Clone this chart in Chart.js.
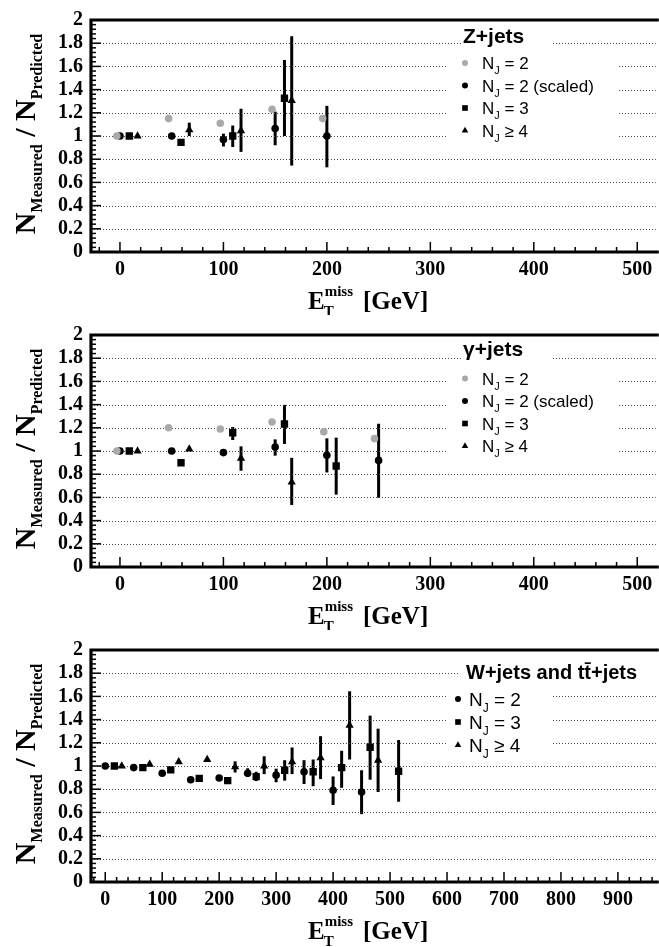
<!DOCTYPE html>
<html>
<head>
<meta charset="utf-8">
<script src="https://cdn.jsdelivr.net/npm/chart.js@4.4.0/dist/chart.umd.min.js"></script>
<style>
body { margin: 0; background: #fff; width: 659px; height: 947px; overflow: hidden; position: relative; }
canvas { position: absolute; left: 0; }
</style>
</head>
<body>
<canvas id="zjets" width="659" height="315" style="top:0px"></canvas>
<canvas id="gjets" width="659" height="315" style="top:315px"></canvas>
<canvas id="wjets" width="659" height="317" style="top:630px"></canvas>
<script>
// legend labels (after "N_J")
const zLabels = ['= 2', '= 2 (scaled)', '= 3', '\u2265 4']
const wLabels = ['= 2', '= 3', '\u2265 4']

// Z+jets
const zGrayX = [-3, 47, 97, 147, 196]
const zGrayY = [1.0, 1.15, 1.11, 1.23, 1.15]
const zCircX = [0, 50, 100, 150, 200]
const zCircY = [1.0, 1.0, 0.97, 1.065, 1.0]
const zCircLo = [1.0, 1.0, 0.91, 0.92, 0.73]
const zCircHi = [1.0, 1.0, 1.02, 1.21, 1.26]
const zSqX = [9, 59, 109, 159]
const zSqY = [1.0, 0.945, 1.0, 1.325]
const zSqLo = [1.0, 0.945, 0.905, 1.0]
const zSqHi = [1.0, 0.945, 1.09, 1.655]
const zTriX = [17, 67, 117, 166]
const zTriY = [1.0, 1.053, 1.045, 1.305]
const zTriLo = [1.0, 1.0, 0.863, 0.745]
const zTriHi = [1.0, 1.115, 1.235, 1.86]

// gamma+jets
const gGrayX = [-3, 47, 97, 147, 197, 246]
const gGrayY = [1.0, 1.20, 1.19, 1.25, 1.165, 1.107]
const gCircX = [0, 50, 100, 150, 200, 250]
const gCircY = [1.0, 1.0, 0.986, 1.034, 0.964, 0.919]
const gCircLo = [1.0, 1.0, 0.986, 0.96, 0.815, 0.597]
const gCircHi = [1.0, 1.0, 0.986, 1.10, 1.109, 1.235]
const gSqX = [9, 59, 109, 159, 209]
const gSqY = [1.0, 0.899, 1.157, 1.233, 0.871]
const gSqLo = [1.0, 0.899, 1.095, 1.061, 0.624]
const gSqHi = [1.0, 0.899, 1.207, 1.398, 1.115]
const gTriX = [17, 67, 117, 166]
const gTriY = [1.0, 1.017, 0.936, 0.731]
const gTriLo = [1.0, 1.017, 0.83, 0.535]
const gTriHi = [1.0, 1.017, 1.04, 0.941]

// W+jets and ttbar+jets
const wCircX = [0, 50, 100, 150, 200, 250, 300, 349, 400, 450]
const wCircY = [1.0, 0.986, 0.938, 0.882, 0.896, 0.938, 0.921, 0.95, 0.79, 0.776]
const wCircLo = [1.0, 0.986, 0.938, 0.882, 0.896, 0.905, 0.86, 0.845, 0.664, 0.585]
const wCircHi = [1.0, 0.986, 0.938, 0.882, 0.896, 0.98, 0.977, 1.05, 0.91, 0.963]
const wSqX = [16, 66, 115, 165, 215, 265, 315, 365, 415, 465, 515]
const wSqY = [1.0, 0.986, 0.966, 0.893, 0.874, 0.908, 0.963, 0.95, 0.986, 1.162, 0.955]
const wSqLo = [1.0, 0.986, 0.966, 0.893, 0.874, 0.87, 0.874, 0.826, 0.812, 0.882, 0.692]
const wSqHi = [1.0, 0.986, 0.966, 0.893, 0.874, 0.95, 1.05, 1.056, 1.131, 1.434, 1.224]
const wTriX = [29, 78, 129, 179, 228, 279, 328, 378, 429, 479]
const wTriY = [1.0, 1.014, 1.036, 1.055, 0.992, 1.0, 1.036, 1.07, 1.35, 1.049]
const wTriLo = [1.0, 1.014, 1.036, 1.055, 0.944, 0.93, 0.93, 0.887, 1.056, 0.776]
const wTriHi = [1.0, 1.014, 1.036, 1.055, 1.04, 1.084, 1.16, 1.257, 1.644, 1.322]

const SERIF = '"Liberation Serif", "Times New Roman", serif'
const SANS = '"Liberation Sans", Arial, sans-serif'
const GRAY = '#a9a9a9'

function pts(xs, ys) {
    return xs.map((x, i) => ({x: x, y: ys[i]}))
}

function series(xs, ys, lo, hi, style, color) {
    const r = style == 'rect' ? 5.2 : style == 'triangle' ? 4.8 : 3.8
    return {
        data: pts(xs, ys),
        errLo: lo, errHi: hi,
        pointStyle: style,
        pointRadius: r,
        backgroundColor: color,
        borderColor: color,
        pointBorderWidth: 0
    }
}

function marker(ctx, style, x, y, r, color) {
    ctx.fillStyle = color
    Chart.helpers.drawPoint(ctx, {pointStyle: style, radius: r, borderWidth: 0, rotation: 0}, x, y)
}

// error bars under the markers
const errorBars = {
    id: 'errorBars',
    beforeDatasetsDraw(chart) {
        const ctx = chart.ctx, xs = chart.scales.x, ys = chart.scales.y
        ctx.save()
        ctx.lineWidth = 3
        ctx.lineCap = 'butt'
        chart.data.datasets.forEach(ds => {
            if (!ds.errLo) return
            ctx.strokeStyle = ds.borderColor
            ds.data.forEach((p, j) => {
                if (ds.errHi[j] - ds.errLo[j] < 0.001) return
                const x = xs.getPixelForValue(p.x)
                ctx.beginPath()
                ctx.moveTo(x, ys.getPixelForValue(ds.errLo[j]))
                ctx.lineTo(x, ys.getPixelForValue(ds.errHi[j]))
                ctx.stroke()
            })
        })
        ctx.restore()
    }
}

// dotted grid, inner ticks, frame, titles and legend
const decor = {
    id: 'decor',
    beforeDatasetsDraw(chart) {
        const ctx = chart.ctx, a = chart.chartArea, ys = chart.scales.y
        ctx.save()
        ctx.strokeStyle = '#444'
        ctx.lineWidth = 1
        ctx.setLineDash([1, 2])
        ys.ticks.forEach(t => {
            if (t.value <= 0 || t.value >= 2) return
            const y = Math.round(ys.getPixelForValue(t.value)) + 0.5
            ctx.beginPath()
            ctx.moveTo(a.left, y)
            ctx.lineTo(a.right + 2, y)
            ctx.stroke()
        })
        ctx.restore()
    },
    afterDraw(chart, args, opts) {
        const ctx = chart.ctx, a = chart.chartArea, xs = chart.scales.x, ys = chart.scales.y
        ctx.save()
        // ticks
        ctx.strokeStyle = '#000'
        ctx.lineWidth = 1.5
        for (let v = Math.ceil(xs.min / 20) * 20; v <= xs.max; v += 20) {
            const x = xs.getPixelForValue(v)
            const len = v % 100 == 0 ? 10 : 5
            ctx.beginPath(); ctx.moveTo(x, a.bottom); ctx.lineTo(x, a.bottom - len); ctx.stroke()
        }
        for (let i = 0; i <= 50; i++) {
            const y = ys.getPixelForValue(i * 0.04)
            const len = i % 5 == 0 ? 10 : 5
            ctx.beginPath(); ctx.moveTo(a.left, y); ctx.lineTo(a.left + len, y); ctx.stroke()
        }
        // frame
        ctx.lineWidth = 3.2
        ctx.beginPath()
        ctx.moveTo(a.right + 5, a.top); ctx.lineTo(a.left, a.top)
        ctx.lineTo(a.left, a.bottom); ctx.lineTo(a.right + 5, a.bottom)
        ctx.stroke()

        // y title
        const big = 'bold 30px ' + SERIF, small = 'bold 16px ' + SERIF
        const parts = [['N', big, 0], ['Measured', small, 7], [' / ', big, 0], ['N', big, 0], ['Predicted', small, 7]]
        let total = 0
        parts.forEach(p => { ctx.font = p[1]; p.push(ctx.measureText(p[0]).width); total += p[3] })
        ctx.fillStyle = '#000'
        ctx.textBaseline = 'alphabetic'
        ctx.save()
        ctx.translate(35, (a.top + a.bottom) / 2 - 2)
        ctx.rotate(-Math.PI / 2)
        let px = -total / 2
        parts.forEach(p => { ctx.font = p[1]; ctx.fillText(p[0], px, p[2]); px += p[3] })
        ctx.restore()

        // x title
        const base = a.bottom + 57
        ctx.font = 'bold 25px ' + SERIF
        ctx.fillText('E', 308, base)
        const ew = ctx.measureText('E').width
        ctx.font = 'bold 15px ' + SERIF
        ctx.fillText('T', 308 + ew - 1, base + 7)
        ctx.fillText('miss', 308 + ew, base - 13)
        ctx.font = 'bold 25px ' + SERIF
        ctx.fillText('[GeV]', 363, base)

        // legend
        const L = opts.legend
        ctx.fillStyle = '#fff'
        ctx.fillRect(L.titleBox[0], L.titleBox[1], L.titleBox[2] - L.titleBox[0], L.titleBox[3] - L.titleBox[1])
        ctx.fillRect(L.box[0], L.box[1], L.box[2] - L.box[0], L.box[3] - L.box[1])
        ctx.fillStyle = '#000'
        ctx.font = 'bold ' + L.titleSize + 'px ' + SANS
        ctx.fillText(L.title, L.titleX, L.titleY + L.titleSize * 0.36)
        chart.data.datasets.forEach((ds, i) => {
            const y = L.rows[i]
            marker(ctx, ds.pointStyle, L.markX, y, L.markR[ds.pointStyle], ds.backgroundColor)
            ctx.fillStyle = '#000'
            let tx = L.textX
            const by = y + L.size * 0.36
            ctx.font = L.size + 'px ' + SANS
            ctx.fillText('N', tx, by)
            tx += ctx.measureText('N').width
            ctx.font = Math.round(L.size * 0.62) + 'px ' + SANS
            ctx.fillText('J', tx, by + L.size * 0.3)
            tx += ctx.measureText('J').width
            ctx.font = L.size + 'px ' + SANS
            ctx.fillText(' ' + L.labels[i], tx, by)
        })
        ctx.restore()
    }
}

function panel(id, xmax, xmin, xh, datasets, legend) {
    return new Chart(document.getElementById(id), {
        type: 'scatter',
        data: {datasets: datasets},
        options: {
            responsive: false,
            animation: false,
            devicePixelRatio: 1,
            layout: {padding: {top: 14, right: 1, left: 0, bottom: 0}},
            plugins: {
                legend: {display: false},
                tooltip: {enabled: false},
                decor: {legend: legend}
            },
            scales: {
                x: {
                    type: 'linear', min: xmin, max: xmax,
                    afterFit: s => { s.height = xh },
                    grid: {display: false, drawTicks: false},
                    border: {display: false},
                    ticks: {
                        stepSize: 100, includeBounds: false, autoSkip: false, maxRotation: 0,
                        color: '#000', padding: 6,
                        font: {family: SERIF, weight: 'bold', size: 20}
                    }
                },
                y: {
                    min: 0, max: 2,
                    afterFit: s => { s.width = 91 },
                    grid: {display: false, drawTicks: false},
                    border: {display: false},
                    ticks: {
                        stepSize: 0.2, autoSkip: false, color: '#000', padding: 8,
                        font: {family: SERIF, weight: 'bold', size: 20},
                        callback: v => String(+v.toFixed(1))
                    }
                }
            }
        },
        plugins: [errorBars, decor]
    })
}

const markR = {circle: 3, rect: 4, triangle: 3.8}

panel('zjets', 516, -28, 63, [
    series(zGrayX, zGrayY, null, null, 'circle', GRAY),
    series(zCircX, zCircY, zCircLo, zCircHi, 'circle', '#000'),
    series(zSqX, zSqY, zSqLo, zSqHi, 'rect', '#000'),
    series(zTriX, zTriY, zTriLo, zTriHi, 'triangle', '#000')
], {
    title: 'Z+jets', titleSize: 21, titleX: 463, titleY: 35, titleBox: [461, 24, 551, 48],
    size: 17, markX: 465, textX: 482, rows: [63, 85.5, 108, 130.5], box: [448, 50, 618, 142],
    markR: markR, labels: zLabels
})

panel('gjets', 516, -28, 63, [
    series(gGrayX, gGrayY, null, null, 'circle', GRAY),
    series(gCircX, gCircY, gCircLo, gCircHi, 'circle', '#000'),
    series(gSqX, gSqY, gSqLo, gSqHi, 'rect', '#000'),
    series(gTriX, gTriY, gTriLo, gTriHi, 'triangle', '#000')
], {
    title: '\u03b3+jets', titleSize: 21, titleX: 463, titleY: 33.5, titleBox: [461, 22, 551, 46],
    size: 17, markX: 465, textX: 482, rows: [63.5, 86, 108.5, 131], box: [448, 50, 618, 142],
    markR: markR, labels: zLabels
})

panel('wjets', 963, -25, 65, [
    series(wCircX, wCircY, wCircLo, wCircHi, 'circle', '#000'),
    series(wSqX, wSqY, wSqLo, wSqHi, 'rect', '#000'),
    series(wTriX, wTriY, wTriLo, wTriHi, 'triangle', '#000')
], {
    title: 'W+jets and t\u0074\u0304+jets', titleSize: 20, titleX: 466, titleY: 42, titleBox: [460, 28, 659, 54],
    size: 19, markX: 458, textX: 469, rows: [69, 92, 115], box: [448, 55, 552, 125],
    markR: markR, labels: wLabels
})
</script>
</body>
</html>
